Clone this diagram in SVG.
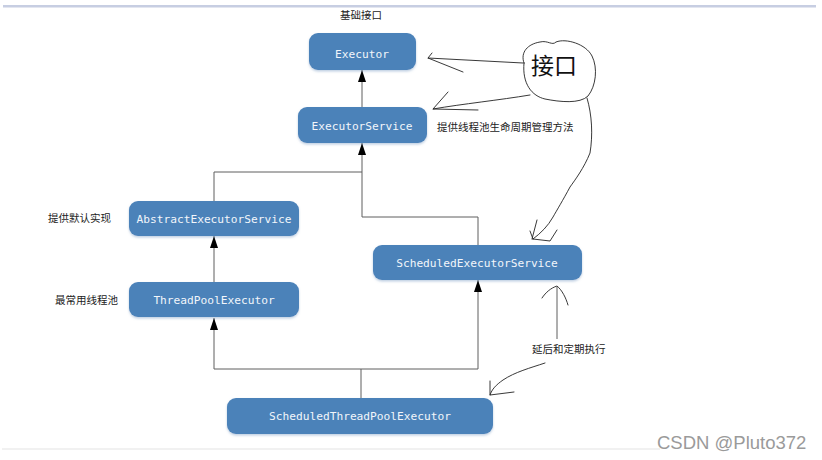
<svg xmlns="http://www.w3.org/2000/svg" width="822" height="460" viewBox="0 0 822 460">
<style>
.node rect{fill:#4b82b9;}
.node text{font-family:"DejaVu Sans Mono","Liberation Mono",monospace;font-size:11.2px;fill:#f2f6fb;text-anchor:middle;dominant-baseline:central;}
.lbl{font-family:"Noto Sans CJK SC","Noto Sans",sans-serif;font-size:10.5px;fill:#222;}
.conn{fill:none;stroke:#5e5e5e;stroke-width:1;}
.sk{fill:none;stroke:#222;stroke-width:0.9;stroke-linecap:round;stroke-linejoin:round;}
</style>
<defs>
<marker id="ah" viewBox="0 0 12 8" markerWidth="12" markerHeight="8" refX="12" refY="4" orient="auto" markerUnits="userSpaceOnUse">
<path d="M0,0 L12,4 L0,8 Z" fill="#000"/>
</marker>
<filter id="sh" x="-10%" y="-20%" width="120%" height="150%">
<feDropShadow dx="0" dy="1.5" stdDeviation="1.2" flood-color="#7f9fc4" flood-opacity="0.5"/>
</filter>
</defs>
<rect width="822" height="460" fill="#fff"/>
<rect x="3" y="5" width="813" height="2.5" fill="#c7cee2"/>
<line x1="2" y1="449" x2="660" y2="449" stroke="#ececec" stroke-width="1.5"/>

<g id="connectors">
<path class="conn" d="M362,107 V70" marker-end="url(#ah)"/>
<path class="conn" d="M478,245 V217 H362 V143" marker-end="url(#ah)"/>
<path class="conn" d="M214,201 V172 H362"/>
<path class="conn" d="M214,282 V236" marker-end="url(#ah)"/>
<path class="conn" d="M361,398 V369" stroke="#b0b0b0"/>
<path class="conn" d="M214,369 H478"/>
<path class="conn" d="M214,369 V318" marker-end="url(#ah)"/>
<path class="conn" d="M478,369 V280" marker-end="url(#ah)"/>
</g>

<g id="n-executor" class="node"><rect x="309" y="33" width="107" height="37" rx="9" filter="url(#sh)"/><text x="362" y="54">Executor</text></g>
<g id="n-executorservice" class="node"><rect x="298" y="107" width="129" height="36" rx="9" filter="url(#sh)"/><text x="362" y="126">ExecutorService</text></g>
<g id="n-abstract" class="node"><rect x="129" y="201" width="170" height="35" rx="9" filter="url(#sh)"/><text x="214" y="219">AbstractExecutorService</text></g>
<g id="n-threadpool" class="node"><rect x="129" y="282" width="170" height="35" rx="9" filter="url(#sh)"/><text x="214" y="300">ThreadPoolExecutor</text></g>
<g id="n-scheduledservice" class="node"><rect x="373" y="245" width="209" height="35" rx="9" filter="url(#sh)"/><text x="477" y="263">ScheduledExecutorService</text></g>
<g id="n-scheduledpool" class="node"><rect x="227" y="398" width="266" height="36" rx="9" filter="url(#sh)"/><text x="360" y="416">ScheduledThreadPoolExecutor</text></g>

<g id="labels">
<text class="lbl" x="340" y="19">基础接口</text>
<text class="lbl" x="437" y="131">提供线程池生命周期管理方法</text>
<text class="lbl" x="48" y="222">提供默认实现</text>
<text class="lbl" x="55" y="304">最常用线程池</text>
<text class="lbl" x="532" y="353">延后和定期执行</text>
<text x="531" y="74" font-family="Noto Sans CJK SC,sans-serif" font-size="23" fill="#111">接口</text>
</g>

<g id="sketch">
<path class="sk" d="M524,63 C520,52 528,44 540,42 C548,40 552,46 556,42 C566,38 586,44 592,56 C598,68 596,86 588,96 C580,104 560,102 545,99 C532,96 522,84 524,63 Z"/>
<path class="sk" d="M523,63 L428,58 L463,72 M428,58 L432,53"/>
<path class="sk" d="M530,95 C500,100 462,104 433,109 L478,110 M433,109 L448,92"/>
<path class="sk" d="M587,98 C592,115 593,135 590,153 C584,168 575,180 570,187 C563,200 557,210 553,217 C548,226 541,233 533,239 M537,220 L532,239 M530,231 L533,239 M533,239 L550,241 L557,230"/>
<path class="conn" d="M557,339 V287" stroke="#666"/>
<path class="sk" d="M542,298 C546,292 551,288 557,286 C562,290 566,298 568,305"/>
<path class="sk" d="M545,363 C530,368 515,372 503,380 C496,385 492,389 490,395 M490,381 L490,395 L514,392"/>
</g>

<text x="657" y="449" font-family="Liberation Sans,Arial,sans-serif" font-size="18.5" fill="#9a9a9a">CSDN @Pluto372</text>
</svg>
